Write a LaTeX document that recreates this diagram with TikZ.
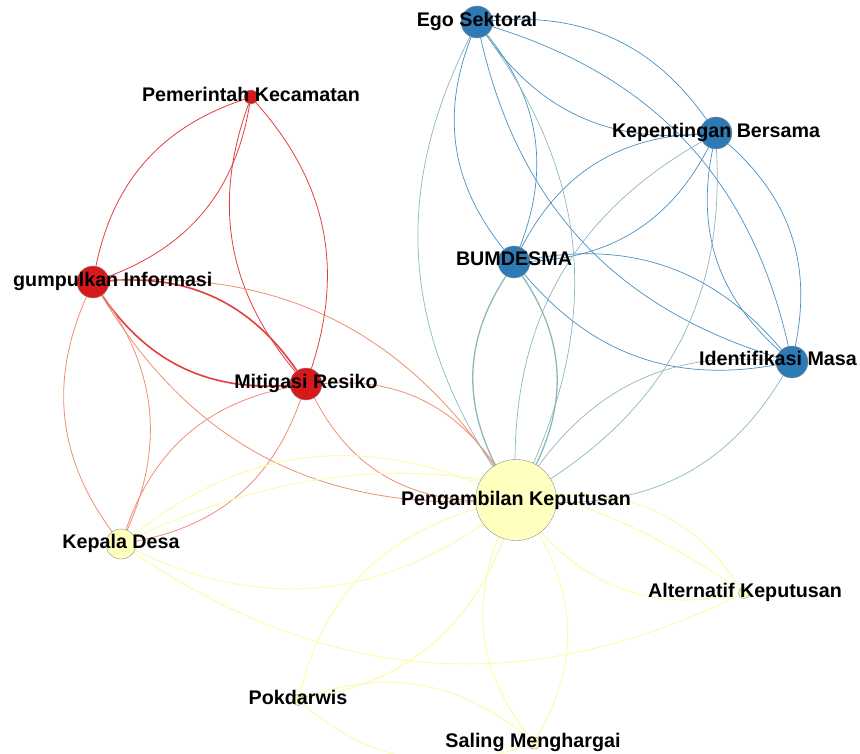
\documentclass[tikz,border=0pt]{standalone}
\usepackage{fontspec}
\setmainfont{Liberation Sans}

\definecolor{nodered}{RGB}{215,25,28}
\definecolor{nodeblue}{RGB}{44,123,182}
\definecolor{nodeyellow}{RGB}{255,255,191}
\definecolor{edgered}{RGB}{226,62,62}
\definecolor{edgeorange}{RGB}{238,142,115}
\definecolor{edgeblue}{RGB}{70,144,196}
\definecolor{edgeteal}{RGB}{140,184,186}
\definecolor{edgeyellow}{RGB}{253,251,178}

\pgfdeclarelayer{edgelayer}
\pgfsetlayers{edgelayer,main}

\tikzset{
	vertex/.style={circle,draw=black!45,line width=0.4pt,inner sep=0pt,minimum size=#1},
	lbl/.style={font=\bfseries\fontsize{19.7}{22}\selectfont,inner sep=0pt,text height=14pt,text depth=0pt},
	lens/.style={bend left=30}
}

\begin{document}
\begin{tikzpicture}[x=1pt,y=-1pt]
		\useasboundingbox (0,0) rectangle (860,754);
		% nodes
		\node[vertex=32pt,fill=nodeblue] (es) at (477,22) {};
		\node[vertex=32pt,fill=nodeblue] (kb) at (716,133) {};
		\node[vertex=32pt,fill=nodeblue] (bu) at (514,262) {};
		\node[vertex=32pt,fill=nodeblue] (im) at (792,362) {};
		\node[vertex=14pt,fill=nodered] (pk) at (251,97) {};
		\node[vertex=32pt,fill=nodered] (mi) at (93,282) {};
		\node[vertex=32pt,fill=nodered] (mr) at (306,384) {};
		\node[vertex=30pt,fill=nodeyellow] (kd) at (121,544) {};
		\node[vertex=81pt,fill=nodeyellow] (pe) at (516,500) {};
		\node[vertex=11pt,fill=nodeyellow] (ak) at (744,593) {};
		\node[vertex=11pt,fill=nodeyellow] (po) at (298,700) {};
		\node[vertex=12pt,fill=nodeyellow] (sm) at (534,743) {};
		% edges, both ways
		\begin{pgfonlayer}{edgelayer}
		\foreach \a/\b/\w in {pk/mi/0.8,pk/mr/0.8,mi/mr/1.6}
			\draw[edgered,line width=\w pt] (\a) to[lens] (\b) (\b) to[lens] (\a);
		\foreach \a/\b in {mi/kd,mr/kd,mi/pe,mr/pe}
			\draw[edgeorange,line width=0.8pt] (\a) to[lens] (\b) (\b) to[lens] (\a);
		\foreach \a/\b in {es/kb,es/bu,es/im,kb/bu,kb/im,bu/im}
			\draw[edgeblue,line width=0.7pt] (\a) to[lens] (\b) (\b) to[lens] (\a);
		\foreach \a/\b/\w in {es/pe/0.7,kb/pe/0.7,bu/pe/1.3,im/pe/0.7}
			\draw[edgeteal,line width=\w pt] (\a) to[lens] (\b) (\b) to[lens] (\a);
		\foreach \a/\b in {kd/pe,kd/ak,pe/ak,pe/po,pe/sm,po/sm}
			\draw[edgeyellow,line width=1.1pt] (\a) to[lens] (\b) (\b) to[lens] (\a);
		\end{pgfonlayer}
		% labels
		\node[lbl] (esL) at (477,20) {Ego Sektoral};
		\node[lbl] (kbL) at (716,131) {Kepentingan Bersama};
		\node[lbl] (buL) at (514,259) {BUMDESMA};
		\node[lbl] (imL) at (778,358) {Identifikasi Masa};
		\node[lbl] (pkL) at (251,95) {Pemerintah Kecamatan};
		\node[lbl,anchor=west] (miL) at (13,280) {gumpulkan Informasi};
		\node[lbl] (mrL) at (306,381) {Mitigasi Resiko};
		\node[lbl] (kdL) at (121,541) {Kepala Desa};
		\node[lbl] (peL) at (516,498) {Pengambilan Keputusan};
		\node[lbl] (akL) at (745,590) {Alternatif Keputusan};
		\node[lbl] (poL) at (298,697) {Pokdarwis};
		\node[lbl] (smL) at (533,740) {Saling Menghargai};
	\end{tikzpicture}
\end{document}
